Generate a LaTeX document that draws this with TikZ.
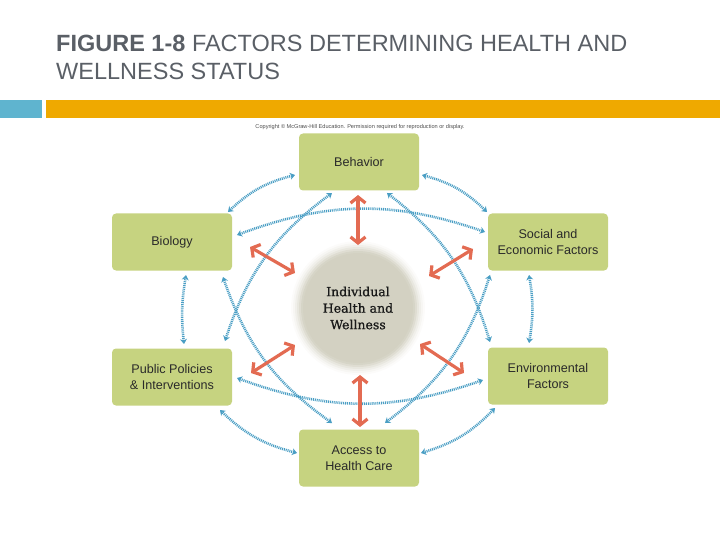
\documentclass[tikz,border=0pt]{standalone}
\usepackage{fontspec}
\setmainfont{Liberation Sans}
\newfontfamily\slabfont[FakeBold=0.9]{DejaVu Serif}
\usetikzlibrary{arrows.meta,calc,bending}
\definecolor{titlegray}{HTML}{5A5F66}
\definecolor{barblue}{HTML}{5FB4CF}
\definecolor{barorange}{HTML}{EFA900}
\definecolor{boxgreen}{HTML}{C6D380}
\definecolor{boxtext}{HTML}{2A2A2A}
\definecolor{circfill}{HTML}{D3D1C2}
\definecolor{linkblue}{HTML}{4A9EC4}
\definecolor{linkred}{HTML}{E36B52}
\begin{document}
\begin{tikzpicture}[x=1pt,y=-1pt,
  box/.style={fill=boxgreen, rounded corners=4pt, minimum width=120pt, minimum height=57pt,
    align=center, font=\fontsize{12.6}{16}\selectfont, text=boxtext, inner sep=0pt},
  dotlink/.style={draw=linkblue, line width=2.6pt, dash pattern=on 1pt off 0.9pt,
    {Stealth[length=5pt,width=7pt,bend]}-{Stealth[length=5pt,width=7pt,bend]}},
  redlink/.style={draw=linkred, line width=3.2pt,
    {Straight Barb[length=6pt,width=15pt]}-{Straight Barb[length=6pt,width=15pt]}}
]
\useasboundingbox (0,0) rectangle (720,540);
% header
\node[anchor=base west, inner sep=0pt, font=\fontsize{23.5}{28}\selectfont, text=titlegray] (t1) at (56,52)
  {\textbf{FIGURE 1-8} FACTORS DETERMINING HEALTH AND};
\node[anchor=base west, inner sep=0pt, font=\fontsize{23.5}{28}\selectfont, text=titlegray] (t2) at (56,80)
  {WELLNESS STATUS};
\fill[barblue] (0,100) rectangle (42,118);
\fill[barorange] (46,100) rectangle (720,118);
\node[font=\fontsize{5.6}{6}\selectfont, text=black!70, inner sep=0pt] (copy) at (360,127)
  {Copyright © McGraw-Hill Education. Permission required for reproduction or display.};
% center circle
\coordinate (indc) at (358,308);
\foreach \r/\o in {67/0.08,65/0.12,63/0.18,61/0.28,59/0.45,57/0.7}
  \fill[circfill, opacity=\o] (indc) circle (\r);
\fill[circfill] (indc) circle (55);
\node[align=center, font=\slabfont\fontsize{12.5}{16.5}\selectfont, text=black!90] (ind) at (indc)
  {Individual\\Health and\\Wellness};
% boxes
\node[box] (beh) at (359,162) {Behavior};
\node[box] (bio) at (172,242) {Biology};
\node[box] (soc) at (548,242) {Social and\\Economic Factors};
\node[box] (pub) at (172,377) {Public Policies\\\& Interventions};
\node[box] (env) at (548,376) {Environmental\\Factors};
\node[box] (acc) at (359,458) {Access to\\Health Care};
% dotted links (clockwise, bend left = outward)
\draw[dotlink] ($(bio)+(56,-30)$) to[bend left=15] ($(beh)+(-64,13)$);
\draw[dotlink] ($(beh)+(63,13)$) to[bend left=15] ($(soc)+(-61,-30)$);
\draw[dotlink] ($(soc)+(-19,33)$) to[bend left=10] ($(env)+(-19,-33)$);
\draw[dotlink] ($(env)+(-53,32)$) to[bend left=15] ($(acc)+(62,-5)$);
\draw[dotlink] ($(acc)+(-62,-5)$) to[bend left=15] ($(pub)+(48,33)$);
\draw[dotlink] ($(pub)+(12,-33)$) to[bend left=8] ($(bio)+(14,33)$);
\draw[dotlink] ($(bio)+(65,-7)$) to[bend left=20] ($(soc)+(-63,-10)$);
\draw[dotlink] ($(env)+(-65,4)$) to[bend left=20] ($(pub)+(65,1)$);
\draw[dotlink] ($(pub)+(53,-36)$) to[bend left=18] ($(beh)+(-27,31)$);
\draw[dotlink] ($(acc)+(-27,-35)$) to[bend left=18] ($(bio)+(51,35)$);
\draw[dotlink] ($(beh)+(28,31)$) to[bend left=18] ($(env)+(-58,-34)$);
\draw[dotlink] ($(soc)+(-58,33)$) to[bend left=18] ($(acc)+(26,-35)$);
% red links
\draw[redlink] ($(ind)+(0,-113)$) -- ($(ind)+(0,-63)$);
\draw[redlink] ($(ind)+(-108,-61)$) -- ($(ind)+(-63,-35)$);
\draw[redlink] ($(ind)+(115,-59)$) -- ($(ind)+(71,-32)$);
\draw[redlink] ($(ind)+(-107,65)$) -- ($(ind)+(-63,37)$);
\draw[redlink] ($(ind)+(106,65)$) -- ($(ind)+(62,36)$);
\draw[redlink] ($(ind)+(2,119)$) -- ($(ind)+(2,67)$);
\end{tikzpicture}
\end{document}
